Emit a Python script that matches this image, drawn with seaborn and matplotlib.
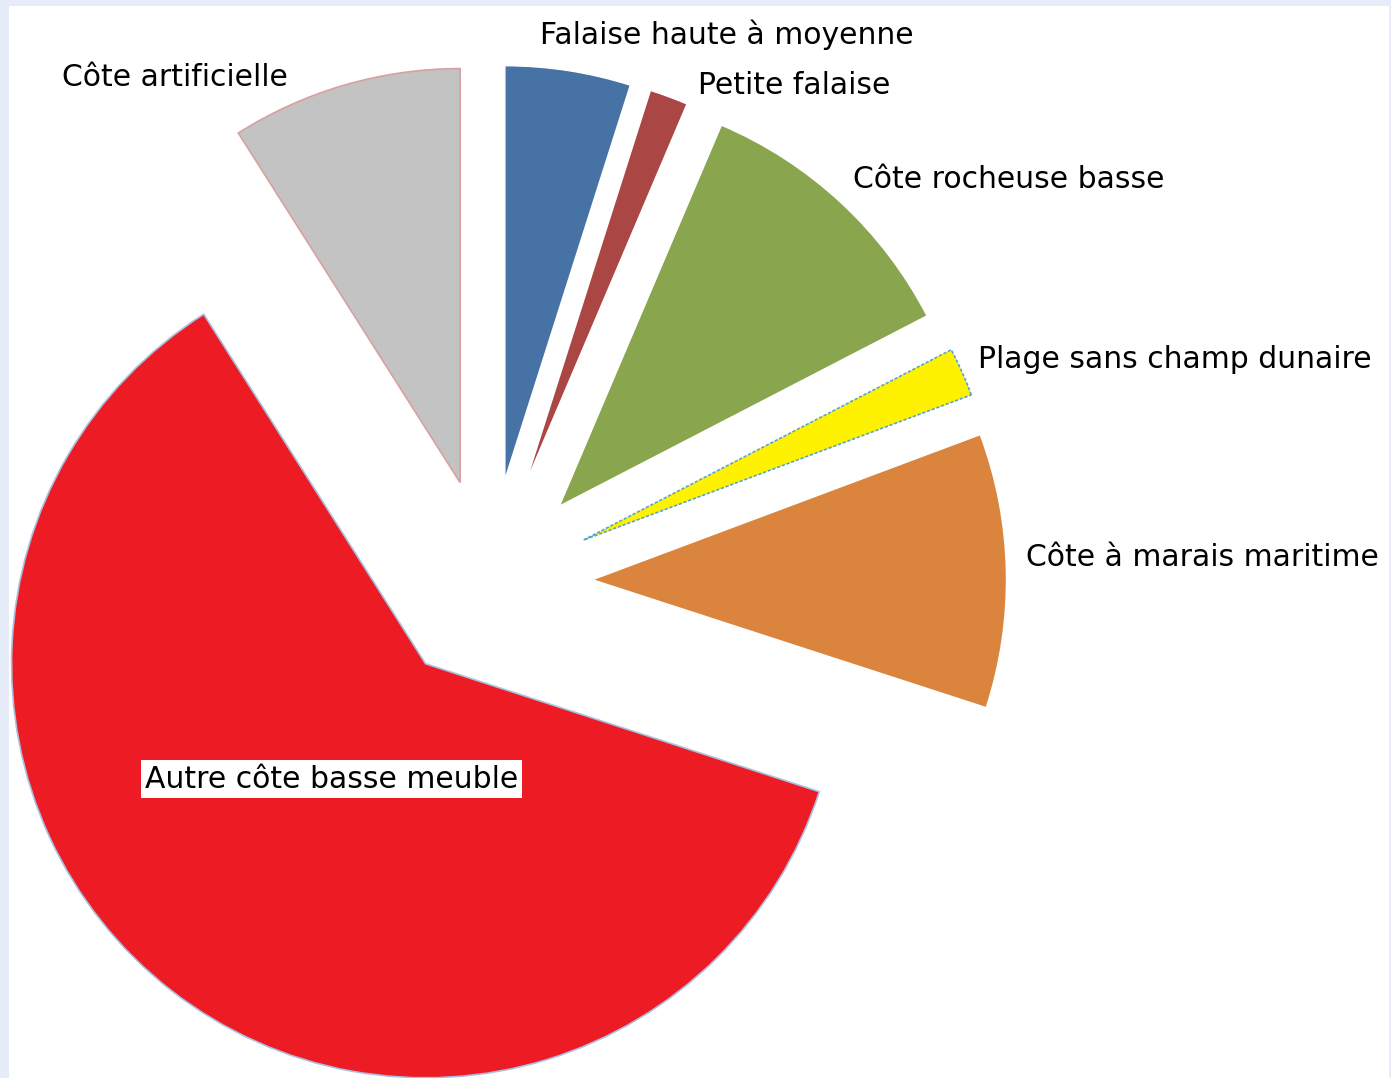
import matplotlib.pyplot as plt
import seaborn as sns
from matplotlib.patches import Rectangle

sns.set_theme(style="white")
plt.rcParams['font.family'] = ['DejaVu Sans']

# shares of coastline type (%)
categories = ["Falaise haute à moyenne", "Petite falaise", "Côte rocheuse basse",
              "Plage sans champ dunaire", "Côte à marais maritime",
              "Autre côte basse meuble", "Côte artificielle"]
shares = [4.9, 1.5, 11.0, 1.9, 10.7, 61.0, 9.0]
colors = ["#4672A6", "#AA4644", "#89A54E", "#FFF200", "#DB843D", "#ED1C24", "#C3C3C3"]
edges = ["none", "none", "none", "#5BA5C8", "none", "#A9C0E0", "#D9A0A0"]

W, H = 1391, 1078
cx, cy, R = 489, 582, 414   # pie centre / radius in pixels

fig = plt.figure(figsize=(W / 100, H / 100), dpi=100)
fig.patch.set_facecolor("#E6ECF8")
fig.patches.append(Rectangle((9 / W, 0), (W - 11) / W, (H - 6) / H,
                             transform=fig.transFigure, facecolor="white",
                             edgecolor="none", zorder=-10))
ax = fig.add_axes([0, 0, 1, 1])
ax.patch.set_alpha(0)

wedges, _ = ax.pie(shares, colors=colors, startangle=90, counterclock=False,
                   explode=[0.25] * len(shares), radius=1)
for w, ec in zip(wedges, edges):
    if ec != "none":
        w.set_edgecolor(ec)
        w.set_linewidth(1.2)
        if ec == "#5BA5C8":
            w.set_linestyle((0, (2, 1)))

ax.set_aspect("auto")
ax.set_xlim(-cx / R, (W - cx) / R)
ax.set_ylim(-(H - cy) / R, cy / R)
ax.axis("off")


def px(x, y):
    return (x - cx) / R, (cy - y) / R


label_pos = {
    "Falaise haute à moyenne": (540, 35),
    "Petite falaise": (698, 86),
    "Côte rocheuse basse": (853, 179),
    "Plage sans champ dunaire": (978, 360),
    "Côte à marais maritime": (1026, 557),
    "Côte artificielle": (62, 77),
}
for name, (x, y) in label_pos.items():
    ax.text(*px(x, y), name, fontsize=21.5, color="black", ha="left", va="center")

ax.text(*px(145, 779), "Autre côte basse meuble", fontsize=21.5, color="black",
        ha="left", va="center",
        bbox=dict(facecolor="white", edgecolor="none", pad=3))

fig.savefig("out.png", dpi=100)
